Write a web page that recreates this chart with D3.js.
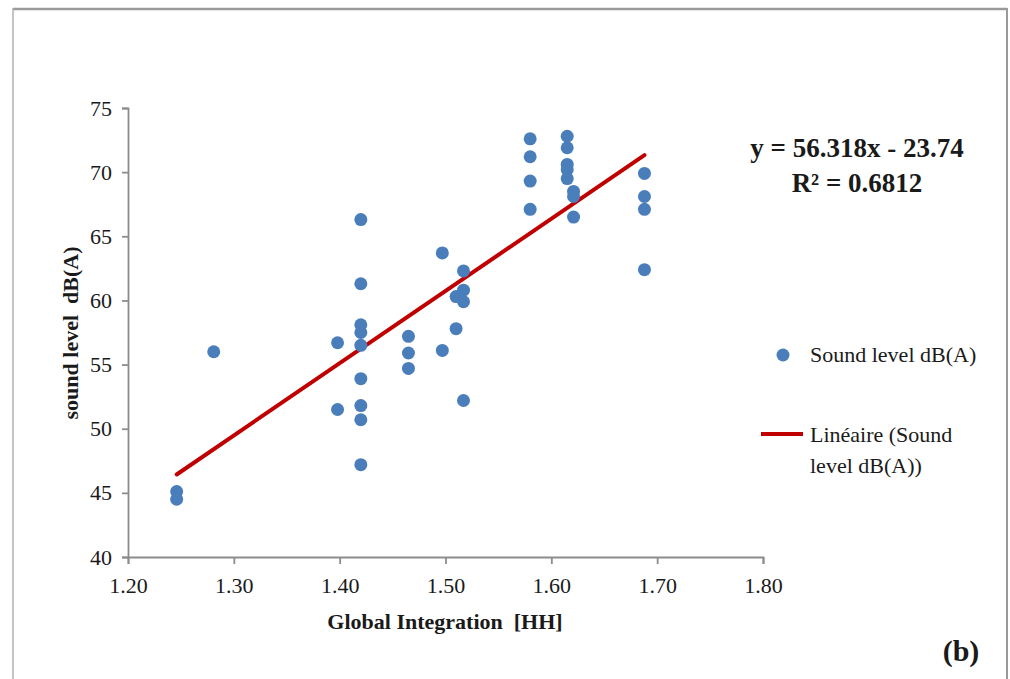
<!DOCTYPE html>
<html>
<head>
<meta charset="utf-8">
<script src="https://cdn.jsdelivr.net/npm/d3@7"></script>
<style>
html,body{margin:0;padding:0;background:#fff;}
svg{display:block;}
svg text{font-family:"Liberation Serif","Times New Roman",Tinos,"DejaVu Serif",serif !important;fill:#1a1a1a;}
</style>
</head>
<body>
<svg id="chart" width="1010" height="679"></svg>
<script>
// Data
const globalIntegration = [
  1.246, 1.246, 1.281, 1.398, 1.398,
  1.420, 1.420, 1.420, 1.420, 1.420, 1.420, 1.420, 1.420, 1.420,
  1.465, 1.465, 1.465,
  1.497, 1.497,
  1.510, 1.510,
  1.517, 1.517, 1.517, 1.517,
  1.580, 1.580, 1.580, 1.580,
  1.615, 1.615, 1.615, 1.615, 1.615,
  1.621, 1.621, 1.621,
  1.688, 1.688, 1.688, 1.688
];
const soundLevel = [
  45.1, 44.5, 56.0, 56.7, 51.5,
  66.3, 61.3, 58.1, 57.5, 56.5, 53.9, 51.8, 50.7, 47.2,
  57.2, 55.9, 54.7,
  63.7, 56.1,
  60.3, 57.8,
  62.3, 60.8, 59.9, 52.2,
  72.6, 71.2, 69.3, 67.1,
  72.8, 71.9, 70.6, 70.2, 69.5,
  68.5, 68.1, 66.5,
  69.9, 68.1, 67.1, 62.4
];
const xTicks = [1.20, 1.30, 1.40, 1.50, 1.60, 1.70, 1.80];
const yTicks = [40, 45, 50, 55, 60, 65, 70, 75];
const slope = 56.318;
const intercept = -23.74;
const rSquared = 0.6812;
const seriesName = "Sound level dB(A)";
const trendNameLines = ["Linéaire (Sound", "level dB(A))"];
const xTitle = "Global Integration \u00a0[HH]";
const yTitle = "sound level \u00a0dB(A)";
const panelLabel = "(b)";

const svg = d3.select("#chart");
const W = 1010, H = 679;

// Outer frame
svg.append("line").attr("x1",13).attr("x2",1007).attr("y1",9).attr("y2",9)
  .attr("stroke","#9a9a9a").attr("stroke-width",2.5);
svg.append("line").attr("x1",13).attr("x2",13).attr("y1",8).attr("y2",H)
  .attr("stroke","#b0b0b0").attr("stroke-width",1.5);
svg.append("line").attr("x1",1007).attr("x2",1007).attr("y1",8).attr("y2",H)
  .attr("stroke","#9a9a9a").attr("stroke-width",2);

const x = d3.scaleLinear().domain([1.2, 1.8]).range([128, 763]);
const y = d3.scaleLinear().domain([40, 75]).range([557, 108]);

const axisColor = "#8c8c8c";

// Y axis
const yAxis = svg.append("g").attr("transform","translate(128,0)")
  .call(d3.axisLeft(y).tickValues(yTicks).tickSize(6).tickPadding(10).tickFormat(d3.format("d")));
yAxis.attr("font-family", null);
yAxis.select(".domain").attr("stroke",axisColor).attr("stroke-width",1.8);
yAxis.selectAll(".tick line").attr("stroke",axisColor).attr("stroke-width",1.8);
yAxis.selectAll(".tick text").style("font-size","22px").attr("fill","#1a1a1a");

// X axis
const xAxis = svg.append("g").attr("transform","translate(0,557)")
  .call(d3.axisBottom(x).tickValues(xTicks).tickSize(7).tickPadding(13).tickFormat(d3.format(".2f")));
xAxis.attr("font-family", null);
xAxis.select(".domain").attr("stroke",axisColor).attr("stroke-width",1.8);
xAxis.selectAll(".tick line").attr("stroke",axisColor).attr("stroke-width",1.8);
xAxis.selectAll(".tick text").style("font-size","22px").attr("fill","#1a1a1a");

// Axis titles
svg.append("text").attr("x",445).attr("y",629).attr("text-anchor","middle")
  .style("font-size","22px").style("font-weight","bold").text(xTitle);
svg.append("text").attr("transform","translate(78,333) rotate(-90)").attr("text-anchor","middle")
  .style("font-size","22px").style("font-weight","bold").text(yTitle);

// Trend line
const xs = d3.extent(globalIntegration);
svg.append("line")
  .attr("x1",x(xs[0])).attr("y1",y(slope*xs[0]+intercept))
  .attr("x2",x(xs[1])).attr("y2",y(slope*xs[1]+intercept))
  .attr("stroke","#c00000").attr("stroke-width",4).attr("stroke-linecap","round");

// Points
const pts = globalIntegration.map((g,i)=>({g, s: soundLevel[i]}));
svg.append("g").selectAll("circle").data(pts).join("circle")
  .attr("cx",d=>x(d.g)).attr("cy",d=>y(d.s)).attr("r",6.5)
  .attr("fill","#4a7ebb");

// Equation
svg.append("text").attr("x",857).attr("y",157).attr("text-anchor","middle")
  .style("font-size","27px").style("font-weight","bold")
  .text(`y = ${slope}x - ${Math.abs(intercept)}`);
svg.append("text").attr("x",857).attr("y",192).attr("text-anchor","middle")
  .style("font-size","27px").style("font-weight","bold")
  .text(`R² = ${rSquared}`);

// Legend
svg.append("circle").attr("cx",783).attr("cy",355).attr("r",6.5).attr("fill","#4a7ebb");
svg.append("text").attr("x",810).attr("y",362).style("font-size","22px").text(seriesName);
svg.append("line").attr("x1",761).attr("x2",803).attr("y1",434).attr("y2",434)
  .attr("stroke","#c00000").attr("stroke-width",4);
svg.append("text").attr("x",810).attr("y",442).style("font-size","22px").text(trendNameLines[0]);
svg.append("text").attr("x",810).attr("y",473).style("font-size","22px").text(trendNameLines[1]);

// Panel label
svg.append("text").attr("x",961).attr("y",661).attr("text-anchor","middle")
  .style("font-size","30px").style("font-weight","bold").text(panelLabel);
</script>
</body>
</html>
